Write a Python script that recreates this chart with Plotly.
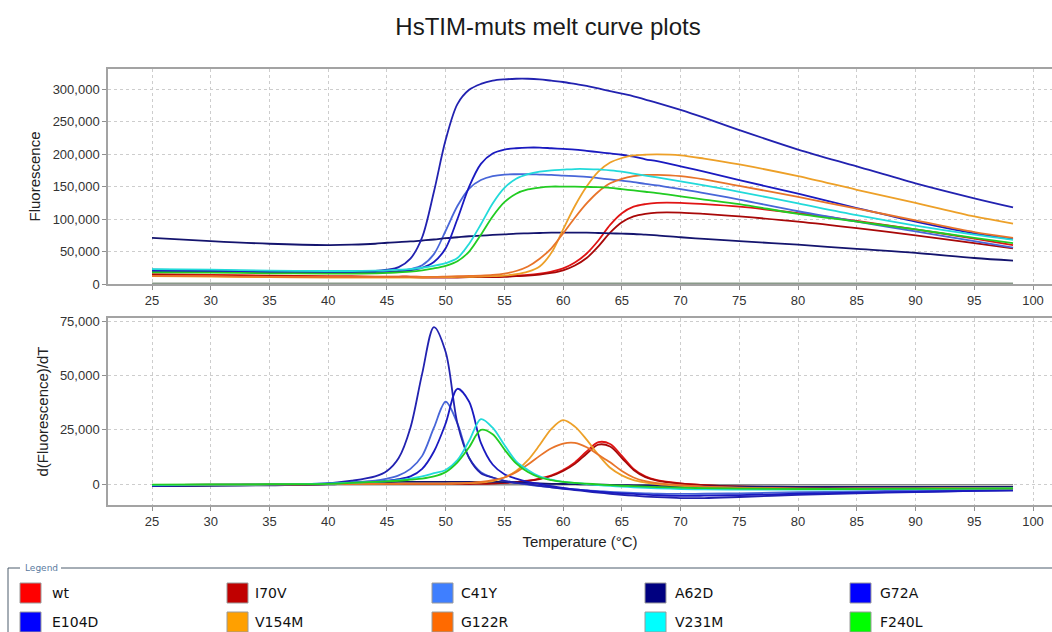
import plotly.graph_objects as go

# ---------------- data (values in thousands) ----------------
T = [25, 30, 35, 40, 42,
     44, 45, 46, 47, 48,
     49, 50, 51, 52, 53,
     54, 55, 56, 57, 58,
     59, 60, 61, 62, 63,
     64, 65, 66, 67, 68,
     70, 72, 75, 80, 85,
     90, 95, 98.3]

series_names = ["wt", "I70V", "C41Y", "A62D", "G72A",
                "E104D", "V154M", "G122R", "V231M", "F240L"]

F_wt = [15, 14, 13, 12, 12, 11.5, 11.5, 11.5, 11.5, 11, 11, 11, 11, 11.5, 11.5,
        11.5, 12, 13, 14, 16, 19, 24, 33, 47, 67, 91, 109, 119, 123, 125,
        125, 123, 119, 109, 97, 84, 70, 60]
F_I70V = [14, 13, 12, 11, 11, 10.5, 10.5, 10.5, 10.5, 10, 10, 10, 10, 10.5, 10.5,
          10.5, 11, 12, 13, 14.5, 17, 21, 28.5, 40, 58, 79, 95, 104, 108, 110,
          110, 108, 104, 96, 86, 75, 63, 55]
F_C41Y = [21, 20, 18.5, 18, 18, 18.5, 19, 20, 23, 29, 46, 82, 120, 147, 160,
          166, 168.5, 169, 169, 168.5, 168, 167, 166, 165, 163, 161, 159, 157, 154, 152,
          146, 140, 130, 112, 96, 81, 66, 56]
F_A62D = [71, 66, 62, 60, 60.5, 62, 63.5, 64.5, 65.5, 67, 68.5, 70.5, 72, 73.5, 74.5,
          75.5, 76.5, 77.5, 78, 78.5, 79, 79, 79, 79, 78.5, 78, 77.5, 77, 76, 75,
          72, 69.5, 66, 60.5, 54, 48, 40, 36]
F_G72A = [22, 21, 19.5, 19, 19.5, 20, 22, 26, 39, 72, 142, 222, 277, 299, 308,
          313, 315, 316, 316, 315, 313, 311, 308, 305, 301, 297, 293, 289, 284, 279,
          268, 256, 237, 207, 181, 155, 132, 118]
F_E104D = [20, 19, 17.5, 17, 17, 17.5, 18, 19, 21, 25, 34, 55, 100, 150, 185,
           201, 207, 209, 210, 210, 209, 208, 207, 205, 203, 201, 199, 196, 192, 189,
           181, 173, 160, 139, 117, 96, 78, 69]
F_V154M = [12, 11.5, 10.5, 10, 10, 10, 10, 10, 10, 10, 10.5, 10.5, 11, 11, 11.5,
           12, 13, 15, 19, 27, 48, 84, 120, 150, 173, 187, 194, 198, 199, 199.5,
           198, 193, 184, 166, 145, 125, 104, 93]
F_G122R = [12.5, 12, 11, 10.5, 10.5, 10.5, 10.5, 10.5, 10.5, 11, 11, 11.5, 12, 12.5, 13,
           14, 16, 20, 27, 39, 55, 78, 102, 124, 142, 155, 162, 166, 168, 168,
           166, 161, 151, 134, 116, 98, 80, 71]
F_V231M = [23, 22, 20.5, 20, 20, 20.5, 21, 22, 23, 25, 28, 32, 40, 62, 92,
           124, 148, 162, 169, 173, 175, 176, 177, 177, 176.5, 175, 173, 170, 167, 164,
           158, 152, 142, 124, 106, 90, 76, 68]
F_F240L = [18, 17.5, 16.5, 16, 16, 16.5, 17, 18, 19, 21, 24, 28, 35, 50, 76,
           104, 126, 139, 145.5, 148.5, 150, 150, 150, 149.5, 149, 148, 146, 144, 142, 140,
           135, 130, 123, 108, 96, 84, 71, 63]

D_wt = [-0.8, -0.5, -0.3, -0.1, 0, 0, 0, 0, 0, 0, 0, 0, 0.1, 0.1, 0.2,
        0.3, 0.5, 1, 1.5, 2.5, 4, 6.5, 10, 15, 19.3, 18.5, 13, 7, 3.5, 1.8,
        0.3, -0.5, -1.2, -1.8, -2.2, -2.3, -2.3, -2.3]
D_I70V = [-0.8, -0.5, -0.3, -0.1, 0, 0, 0, 0, 0, 0, 0, 0, 0.1, 0.1, 0.2,
          0.3, 0.5, 0.9, 1.4, 2.3, 3.7, 6, 9.3, 14, 18.2, 17.3, 12, 6.5, 3.2, 1.6,
          0.2, -0.5, -1.1, -1.7, -2.1, -2.2, -2.2, -2.2]
D_C41Y = [-0.5, -0.3, -0.2, 0.3, 0.8, 1.5, 2.5, 4, 7, 13, 26, 38, 28, 12, 5.5,
          3, 1.5, 0.5, -0.3, -1, -1.5, -2, -2.5, -3, -3.3, -3.6, -3.9, -4.1, -4.3, -4.5,
          -4.6, -4.5, -4.3, -3.8, -3.4, -3, -2.7, -2.5]
D_A62D = [-1, -0.8, -0.6, -0.2, 0.3, 0.6, 0.8, 1, 1, 1, 1, 1, 1, 1, 1,
          1, 0.9, 0.7, 0.5, 0.3, 0.1, 0, -0.1, -0.2, -0.3, -0.4, -0.5, -0.6, -0.7, -0.8,
          -1, -1.1, -1.2, -1.3, -1.3, -1.3, -1.3, -1.3]
D_G72A = [-1, -0.5, -0.3, 0.3, 1.5, 3.5, 6, 12, 26, 51, 72.5, 61, 28, 12, 5,
          3, 1.5, 0.5, 0, -0.8, -1.5, -2.2, -2.8, -3.4, -4, -4.5, -5, -5.4, -5.8, -6.1,
          -6.5, -6.5, -6, -5, -4.3, -3.7, -3.2, -3]
D_E104D = [-0.5, -0.4, -0.2, 0.2, 0.5, 1, 1.5, 2.2, 3.5, 7, 15, 28, 44, 38, 19,
           9, 4.5, 2.5, 1, 0, -1, -1.8, -2.5, -3, -3.5, -4, -4.3, -4.6, -4.9, -5.2,
           -5.5, -5.4, -5.1, -4.5, -4, -3.6, -3.2, -2.8]
D_V154M = [-0.5, -0.3, -0.2, 0, 0, 0.1, 0.2, 0.2, 0.2, 0.2, 0.2, 0.2, 0.3, 0.4, 0.7,
           1.3, 3, 6, 11, 18, 25.5, 29.5, 26.5, 20.5, 13.5, 7.5, 4, 1.8, 0.7, 0,
           -0.8, -1.3, -1.8, -2.2, -2.2, -2.1, -2, -2]
D_G122R = [-0.5, -0.3, -0.2, 0, 0, 0.1, 0.1, 0.1, 0.2, 0.2, 0.2, 0.2, 0.3, 0.5, 1,
           1.8, 3, 5.5, 9, 13, 16.5, 18.7, 19, 17, 13.5, 10, 6, 3, 1.3, 0.4,
           -0.5, -1.2, -1.7, -2.1, -2.2, -2.1, -2, -2]
D_V231M = [-0.5, -0.3, -0.2, 0.2, 0.6, 1, 1.3, 1.8, 2.5, 3.5, 5, 6.5, 11, 20, 30,
           26, 18, 10.5, 6.5, 3.5, 2, 1, 0.5, 0, -0.5, -0.9, -1.2, -1.5, -1.8, -2,
           -2.3, -2.5, -2.6, -2.6, -2.5, -2.3, -2.1, -2]
D_F240L = [-0.3, -0.2, -0.1, 0.1, 0.5, 1, 1.2, 1.5, 2, 2.5, 3.5, 5.5, 10, 17, 25,
           23, 16, 9.5, 5.5, 3, 1.8, 1, 0.5, 0.2, -0.2, -0.5, -0.8, -1, -1.2, -1.4,
           -1.7, -1.9, -2.1, -2.3, -2.3, -2.2, -2.1, -2]

# background (no-template) trace, not in legend
T_bg = [25, 60, 98.3]
F_bg = [1.3, 1.4, 1.3]
D_bg = [-0.3, -0.3, -0.3]

y_ticks_top = [0, 50000, 100000, 150000, 200000, 250000, 300000]
y_ticks_bot = [0, 25000, 50000, 75000]
x_ticks = [25, 30, 35, 40, 45, 50, 55, 60, 65, 70, 75, 80, 85, 90, 95, 100]

# ---------------- styling ----------------
line_colors = {"wt": "#E01414", "I70V": "#A80808", "C41Y": "#4866D8", "A62D": "#14146E",
               "G72A": "#2222B0", "E104D": "#1A1AC0", "V154M": "#EDA028",
               "G122R": "#E8742A", "V231M": "#22DADA", "F240L": "#22CC22"}
swatch_colors = {"wt": "#FF0000", "I70V": "#C00000", "C41Y": "#3F7FFF", "A62D": "#000080",
                 "G72A": "#0000FF", "E104D": "#0000FF", "V154M": "#FFA000",
                 "G122R": "#FF6A00", "V231M": "#00FFFF", "F240L": "#00FF00"}

F_data = {"wt": F_wt, "I70V": F_I70V, "C41Y": F_C41Y, "A62D": F_A62D, "G72A": F_G72A,
          "E104D": F_E104D, "V154M": F_V154M, "G122R": F_G122R, "V231M": F_V231M,
          "F240L": F_F240L}
D_data = {"wt": D_wt, "I70V": D_I70V, "C41Y": D_C41Y, "A62D": D_A62D, "G72A": D_G72A,
          "E104D": D_E104D, "V154M": D_V154M, "G122R": D_G122R, "V231M": D_V231M,
          "F240L": D_F240L}

W, H = 1052, 632
ML, MR, MT, MB = 108, 0, 69, 127
PW, PH = W - ML - MR, H - MT - MB


def px(x):
    return (x - ML) / PW


def py(y):
    return 1 - (y - MT) / PH


fig = go.Figure()

fig.add_trace(go.Scatter(x=T_bg, y=[v * 1000 for v in F_bg], mode="lines",
                         line=dict(color="#8a9a8a", width=1.5), xaxis="x", yaxis="y",
                         showlegend=False, hoverinfo="skip"))
fig.add_trace(go.Scatter(x=T_bg, y=[v * 1000 for v in D_bg], mode="lines",
                         line=dict(color="#8a8a8a", width=1.5), xaxis="x2", yaxis="y2",
                         showlegend=False, hoverinfo="skip"))

for name in series_names:
    c = line_colors[name]
    fig.add_trace(go.Scatter(x=T, y=[v * 1000 for v in F_data[name]], mode="lines",
                             name=name, line=dict(color=c, width=1.8, shape="spline", smoothing=0.9),
                             xaxis="x", yaxis="y", showlegend=False))
    fig.add_trace(go.Scatter(x=T, y=[v * 1000 for v in D_data[name]], mode="lines",
                             name=name, line=dict(color=c, width=1.8, shape="spline", smoothing=0.9),
                             xaxis="x2", yaxis="y2", showlegend=False))

axis_common = dict(showline=True, mirror=True, linecolor="#a3a3a3", linewidth=1.5,
                   showgrid=True, gridcolor="#cdcdcd", griddash="dot", gridwidth=1,
                   zeroline=False, ticks="outside", ticklen=4, tickcolor="#909090",
                   tickfont=dict(family="Liberation Sans", size=13, color="#333333"))

xr = [25 - (152 - ML) / 11.747, 100 + (W - MR - 1033) / 11.747]

fig.update_layout(
    width=W, height=H,
    margin=dict(l=ML, r=MR, t=MT, b=MB, autoexpand=False),
    paper_bgcolor="white", plot_bgcolor="white",
    title=dict(text="HsTIM-muts melt curve plots", x=548 / W, xanchor="center",
               y=1 - 27 / H, yanchor="middle",
               font=dict(family="Liberation Sans", size=24, color="#1a1a1a")),
    xaxis=dict(domain=[0, 1], anchor="y", range=xr, tickvals=x_ticks, **axis_common),
    yaxis=dict(domain=[py(284), 1], anchor="x", range=[0, 331000], tickvals=y_ticks_top,
               tickformat=",d",
               title=dict(text="Fluorescence", standoff=8,
                          font=dict(family="Liberation Sans", size=15, color="#222222")),
               **axis_common),
    xaxis2=dict(domain=[0, 1], anchor="y2", range=xr, tickvals=x_ticks,
                title=dict(text="Temperature (°C)", standoff=8,
                           font=dict(family="Liberation Sans", size=15, color="#222222")),
                **axis_common),
    yaxis2=dict(domain=[0, py(318)], anchor="x2", range=[-9700, 76700], tickvals=y_ticks_bot,
                tickformat=",d",
                title=dict(text="d(Fluorescence)/dT", standoff=8,
                           font=dict(family="Liberation Sans", size=15, color="#222222")),
                **axis_common),
)

# ---------------- custom legend box ----------------
shapes = []
annotations = []
box_c = "#4d5d6d"
shapes.append(dict(type="line", xref="paper", yref="paper", x0=px(8), x1=px(20),
                   y0=py(568), y1=py(568), line=dict(color=box_c, width=1)))
shapes.append(dict(type="line", xref="paper", yref="paper", x0=px(61), x1=px(W + 5),
                   y0=py(568), y1=py(568), line=dict(color=box_c, width=1)))
shapes.append(dict(type="line", xref="paper", yref="paper", x0=px(8), x1=px(8),
                   y0=py(568), y1=py(H + 5), line=dict(color=box_c, width=1)))
annotations.append(dict(text="Legend", xref="paper", yref="paper", x=px(23), y=py(568),
                        xanchor="left", yanchor="middle", showarrow=False,
                        font=dict(family="DejaVu Sans", size=9, color="#5a7aa0")))

sw_x = [20, 227, 432, 645, 850]
tx_x = [50, 253, 459, 673, 878]
row_y = [593, 622]
for i, name in enumerate(series_names):
    r, col = divmod(i, 5)
    yc = row_y[r]
    shapes.append(dict(type="rect", xref="paper", yref="paper",
                       x0=px(sw_x[col]), x1=px(sw_x[col] + 21),
                       y0=py(yc - 10), y1=py(yc + 10),
                       fillcolor=swatch_colors[name], line=dict(color="#9a9a9a", width=1)))
    annotations.append(dict(text=name, xref="paper", yref="paper", x=px(tx_x[col]), y=py(yc),
                            xanchor="left", yanchor="middle", showarrow=False,
                            font=dict(family="DejaVu Sans", size=14, color="#111111")))

fig.update_layout(shapes=shapes, annotations=annotations)

fig.write_html("out.html")
